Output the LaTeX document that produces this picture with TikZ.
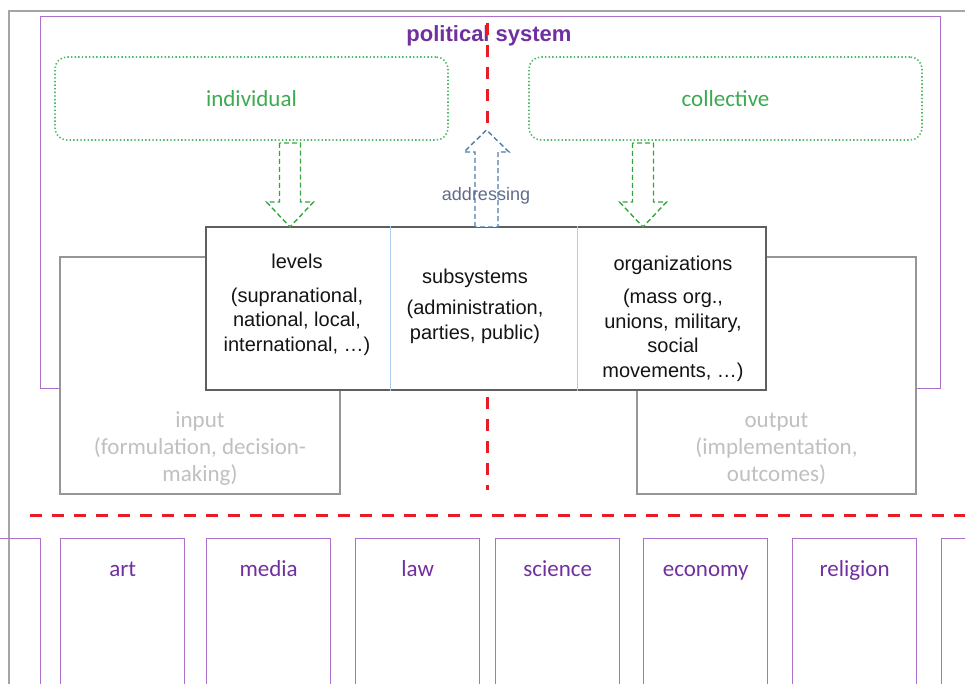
\documentclass[tikz,border=0pt]{standalone}
\usepackage{fontspec}
\setmainfont{Liberation Sans}
\newfontfamily\calibri{Carlito}
\usetikzlibrary{positioning, calc}
\definecolor{framegray}{RGB}{165,165,165}
\definecolor{syspurple}{RGB}{172,112,202}
\definecolor{systext}{RGB}{112,48,160}
\definecolor{actgreen}{RGB}{80,185,100}
\definecolor{acttext}{RGB}{60,170,80}
\definecolor{arrgreen}{RGB}{55,165,65}
\definecolor{arrblue}{RGB}{80,125,175}
\definecolor{addrtext}{RGB}{95,108,140}
\definecolor{cutred}{RGB}{232,28,38}
\definecolor{phasegray}{RGB}{150,150,150}
\definecolor{phasetext}{RGB}{192,192,192}
\definecolor{coregray}{RGB}{95,95,95}
\definecolor{divblue}{RGB}{175,205,235}
\definecolor{coretext}{RGB}{20,20,20}

\tikzset{
  pics/fat arrow/.style args={#1/#2/#3/#4}{code={
    \filldraw[fill=white] (-#2,0) -- (-#2,#1-#4) -- (-#3,#1-#4) -- (0,#1)
      -- (#3,#1-#4) -- (#2,#1-#4) -- (#2,0) -- cycle;
  }}
}

\begin{document}
\begin{tikzpicture}[x=1pt, y=-1pt]
    \tikzstyle{frame}=[draw=framegray, line width=1.4pt]
    \tikzstyle{sysbox}=[draw=syspurple, line width=1.3pt, minimum width=900pt, minimum height=372pt, inner sep=0pt]
    \tikzstyle{title}=[text=systext, anchor=base, font=\bfseries\fontsize{22}{26}\selectfont]
    \tikzstyle{border}=[draw=cutred, line width=3pt, dash pattern=on 12pt off 10pt]
    \tikzstyle{actor}=[draw=actgreen, line width=1.6pt, dash pattern=on 1.4pt off 2.2pt, rounded corners=12pt, minimum width=393pt, minimum height=83pt, text=acttext, font=\calibri\fontsize{23}{27}\selectfont]
    \tikzstyle{phase}=[draw=phasegray, fill=white, line width=1.3pt, minimum width=280pt, minimum height=237pt]
    \tikzstyle{phase text}=[text=phasetext, align=center, anchor=base, inner sep=0pt, font=\calibri\fontsize{23}{27}\selectfont]
    \tikzstyle{core}=[draw=coregray, fill=white, line width=1.5pt, minimum width=560pt, minimum height=163pt]
    \tikzstyle{core text}=[text=coretext, align=center, anchor=base, inner sep=0pt, font=\fontsize{20}{24.5}\selectfont]
    \tikzstyle{divider}=[draw=divblue, line width=1pt]
    \tikzstyle{green arrow}=[color=arrgreen, line width=1.4pt, dash pattern=on 5pt off 3pt]
    \tikzstyle{blue arrow}=[color=arrblue, line width=1.4pt, dash pattern=on 5pt off 3pt]
    \tikzstyle{note}=[text=addrtext, anchor=base, font=\fontsize{18}{22}\selectfont]
    \tikzstyle{sector}=[draw=syspurple, line width=1.3pt, minimum width=124pt, minimum height=170pt, anchor=north west]
    \tikzstyle{sector text}=[text=systext, anchor=base, font=\calibri\fontsize{23}{27}\selectfont]

    \useasboundingbox (0,0) rectangle (965,684);
    \clip (0,0) rectangle (965,684);

    \draw[frame] (9,700) -- (9,11) -- (980,11);

    % political system
    \node[sysbox] (polsys) at (490.75,202.75) {};
    \node[title] (title) at (489,42) {political system};
    \draw[border] (487,23) -- (487,490);

    \node[actor] (ind) at (251.5,98.5) {individual};
    \node[actor] (coll) at (725.5,98.5) {collective};

    \node[phase] (input) at (200,375.5) {};
    \node[phase, minimum width=279pt] (output) at (776.5,375.5) {};
    % base = last line
    \node[phase text] (intext) at (200,481) {input\\(formulation, decision-\\making)};
    \node[phase text] (outtext) at (776.5,481) {output\\(implementation,\\outcomes)};

    % core of the system
    \node[core] (core) at (486,308.5) {};
    \draw[divider] ($(core.north west)!0.330!(core.north east)$) -- ($(core.south west)!0.330!(core.south east)$);
    \draw[divider] ($(core.north west)!0.6625!(core.north east)$) -- ($(core.south west)!0.6625!(core.south east)$);
    \node[core text] (levels) at (297,351) {levels\\[9pt](supranational,\\national, local,\\international, …)};
    \node[core text] (subsys) at (475,339) {subsystems\\[7pt](administration,\\parties, public)};
    \node[core text] (orgs) at (673,377) {organizations\\[9pt](mass org.,\\unions, military,\\social\\movements, …)};

    \pic[green arrow] at (290,143) {fat arrow=84/10.5/23.5/25};
    \pic[green arrow] at (643,143) {fat arrow=84/10.5/23.5/25};
    \pic[blue arrow] at (486.5,227) {fat arrow=-97/11.5/22.5/-22};
    \node[note] (addr) at (486,201) {addressing};

    \draw[border] (30,515) -- (970,515);

    % function systems
    \node[sector] (restl) at (-84,538) {};
    \node[sector] (restr) at (941,538) {};
    \foreach \x/\name in {60/art, 206/media, 355/law, 495/science, 643/economy, 792/religion}{
        \node[sector] (\name) at (\x,538) {};
        \node[sector text] at ($(\name.north)+(0,38)$) {\name};
    }
\end{tikzpicture}
\end{document}
